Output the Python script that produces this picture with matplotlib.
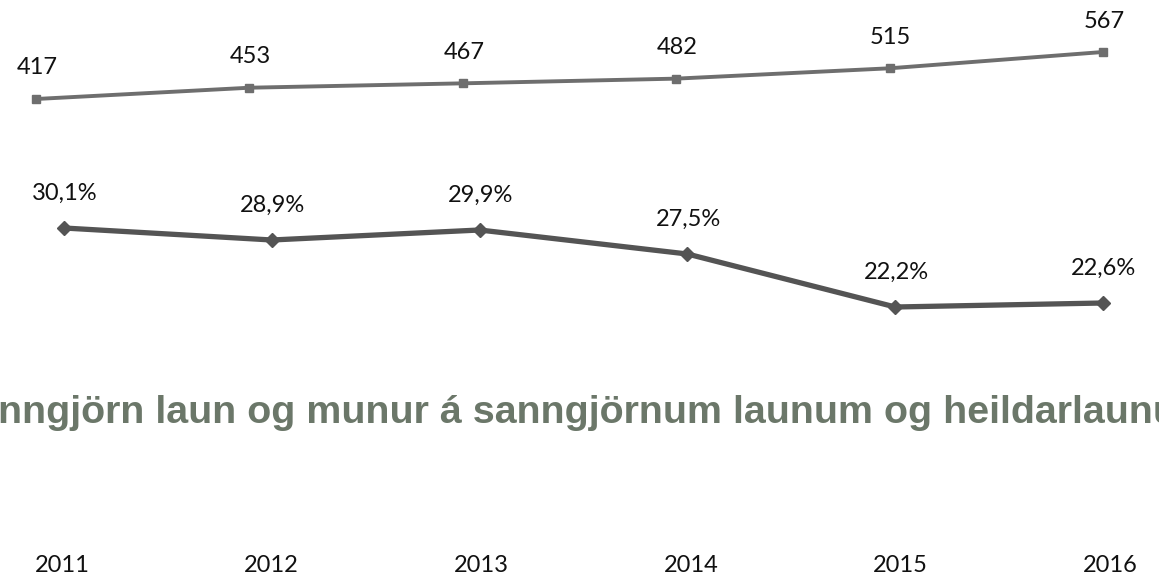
import matplotlib.pyplot as plt

years = [2011, 2012, 2013, 2014, 2015, 2016]
fair_pay = [417, 453, 467, 482, 515, 567]
gap_pct = [30.1, 28.9, 29.9, 27.5, 22.2, 22.6]
title = "Sanngjörn laun og munur á sanngjörnum launum og heildarlaunum"

W, H = 1159, 580
fig = plt.figure(figsize=(W / 100, H / 100), dpi=100)


def px_axes(x0, x1, y_top, y_bot):
    # axes from pixel box (y measured from top of image)
    ax = fig.add_axes([x0 / W, 1 - y_bot / H, (x1 - x0) / W, (y_bot - y_top) / H])
    ax.axis("off")
    return ax


label_font = dict(family="Lato", fontsize=17, color="#111111")

# top line: counts
ax1 = px_axes(36, 1103, 52, 99)
ax1.set_xlim(2011, 2016)
ax1.set_ylim(417, 567)
ax1.plot(years, fair_pay, color="#6e6e6e", lw=2.8, marker="s", ms=6, clip_on=False)
for x, v in zip(years, fair_pay):
    ax1.annotate(str(v), (x, v), xytext=(1, 31), textcoords="offset pixels",
                 ha="center", va="center", annotation_clip=False, **label_font)

# middle line: percentages
ax2 = px_axes(64, 1103, 228, 307)
ax2.set_xlim(2011, 2016)
ax2.set_ylim(22.2, 30.1)
ax2.plot(years, gap_pct, color="#545454", lw=3.8, marker="D", ms=7, clip_on=False)
for x, v in zip(years, gap_pct):
    ax2.annotate(f"{v:.1f}%".replace(".", ","), (x, v), xytext=(1, 35),
                 textcoords="offset pixels", ha="center", va="center",
                 annotation_clip=False, **label_font)

# title runs past both edges of the picture, as in the source screenshot
fig.text(-50 / W, 1 - 413 / H, title, ha="left", va="center", family="Liberation Sans",
         fontweight="bold", fontsize=28.4, color="#6b7769")

# year labels
ax3 = px_axes(62, 1110, 556, 576)
ax3.set_xlim(2011, 2016)
ax3.set_ylim(0, 1)
for x in years:
    ax3.text(x, 0.5, str(x), ha="center", va="center", **label_font)

fig.savefig("out.png", dpi=100)
